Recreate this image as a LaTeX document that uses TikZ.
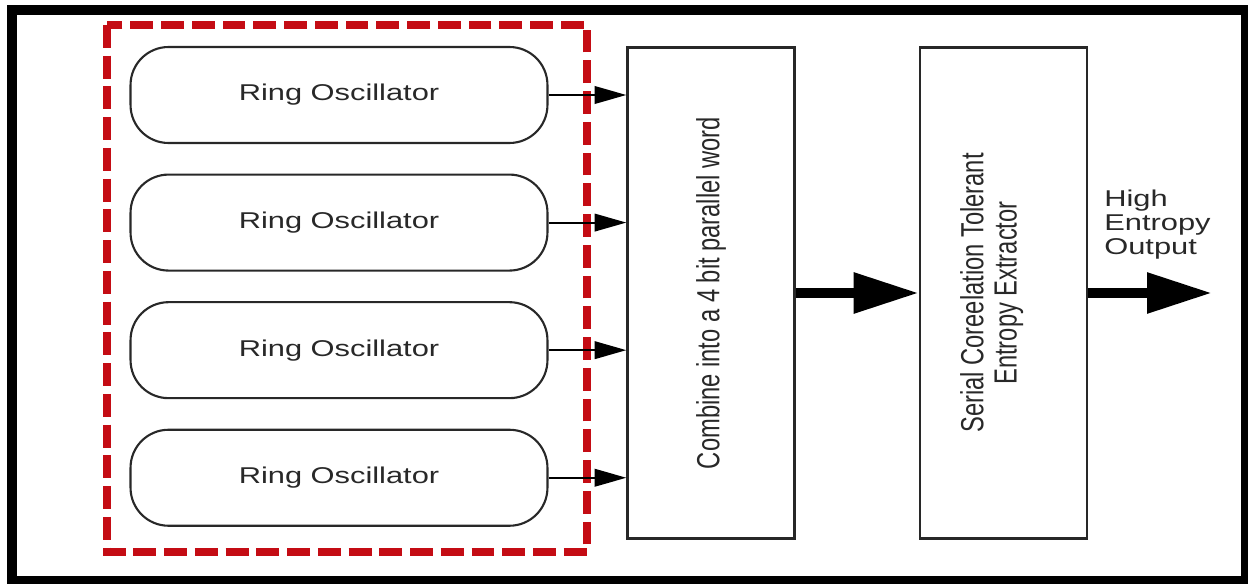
\documentclass[tikz,border=0pt]{standalone}
\usepackage{fontspec}
\setmainfont{Liberation Sans}
\usetikzlibrary{arrows.meta,positioning}
\definecolor{dashred}{RGB}{196,12,20}
\definecolor{linegray}{RGB}{40,40,40}
\newcommand{\widetext}[1]{\scalebox{1.35}[1]{#1}}
\newcommand{\tallertext}[1]{\scalebox{1}[1.35]{#1}}

\begin{document}
\begin{tikzpicture}[x=0.02cm, y=-0.02cm,
  osc/.style={draw=linegray, line width=1.2pt, rounded corners=0.76cm, minimum width=8.34cm, minimum height=1.92cm, text=linegray, font=\fontsize{13}{15}\selectfont},
  stage/.style={draw=linegray, line width=1.4pt, minimum width=3.34cm, minimum height=9.82cm},
  vtext/.style={rotate=90, text=linegray, align=center, font=\fontsize{13.5}{14}\selectfont},
  thin arrow/.style={line width=1.1pt, -{Triangle[length=18pt,width=10pt]}},
  fat arrow/.style={line width=5.7pt, -{Triangle[length=37pt,width=22pt]}}]

\useasboundingbox (0,0) rectangle (1248,584);

% outer frame
\draw[line width=5.7pt] (12,10) rectangle (1246,581);

% oscillator group
\draw[dashred, line width=4pt, dash pattern=on 13pt off 4.5pt] (107,25) rectangle (587,552);

\node[osc] (ro1) at (339,95) {\widetext{Ring Oscillator}};
\node[osc, below=0.59cm of ro1] (ro2) {\widetext{Ring Oscillator}};
\node[osc, below=0.59cm of ro2] (ro3) {\widetext{Ring Oscillator}};
\node[osc, below=0.59cm of ro3] (ro4) {\widetext{Ring Oscillator}};

% stages
\node[stage] (comb) at (711,293) {};
\node[vtext] (combtxt) at (comb.center) {\tallertext{Combine into a 4 bit parallel word}};
\node[stage, right=2.46cm of comb] (ser) {};
\node[vtext] (sertxt) at ([xshift=-0.2cm]ser.center) {\tallertext{\begin{tabular}{c}Serial Coreelation Tolerant\\Entropy Extractor\end{tabular}}};

% arrows
\foreach \i in {1,...,4}
  \draw[thin arrow] (ro\i.east) -- (ro\i.east -| comb.west);
\draw[fat arrow] (comb.east) -- (ser.west);
\coordinate (out) at (1212,293);
\draw[fat arrow] (ser.east) -- (out);

\node[anchor=west, inner sep=0, text=linegray, font=\fontsize{13}{13.7}\selectfont] (outlbl) at (1104,226)
  {\widetext{\begin{tabular}{@{}l@{}}High\\Entropy\\Output\end{tabular}}};

\end{tikzpicture}
\end{document}
